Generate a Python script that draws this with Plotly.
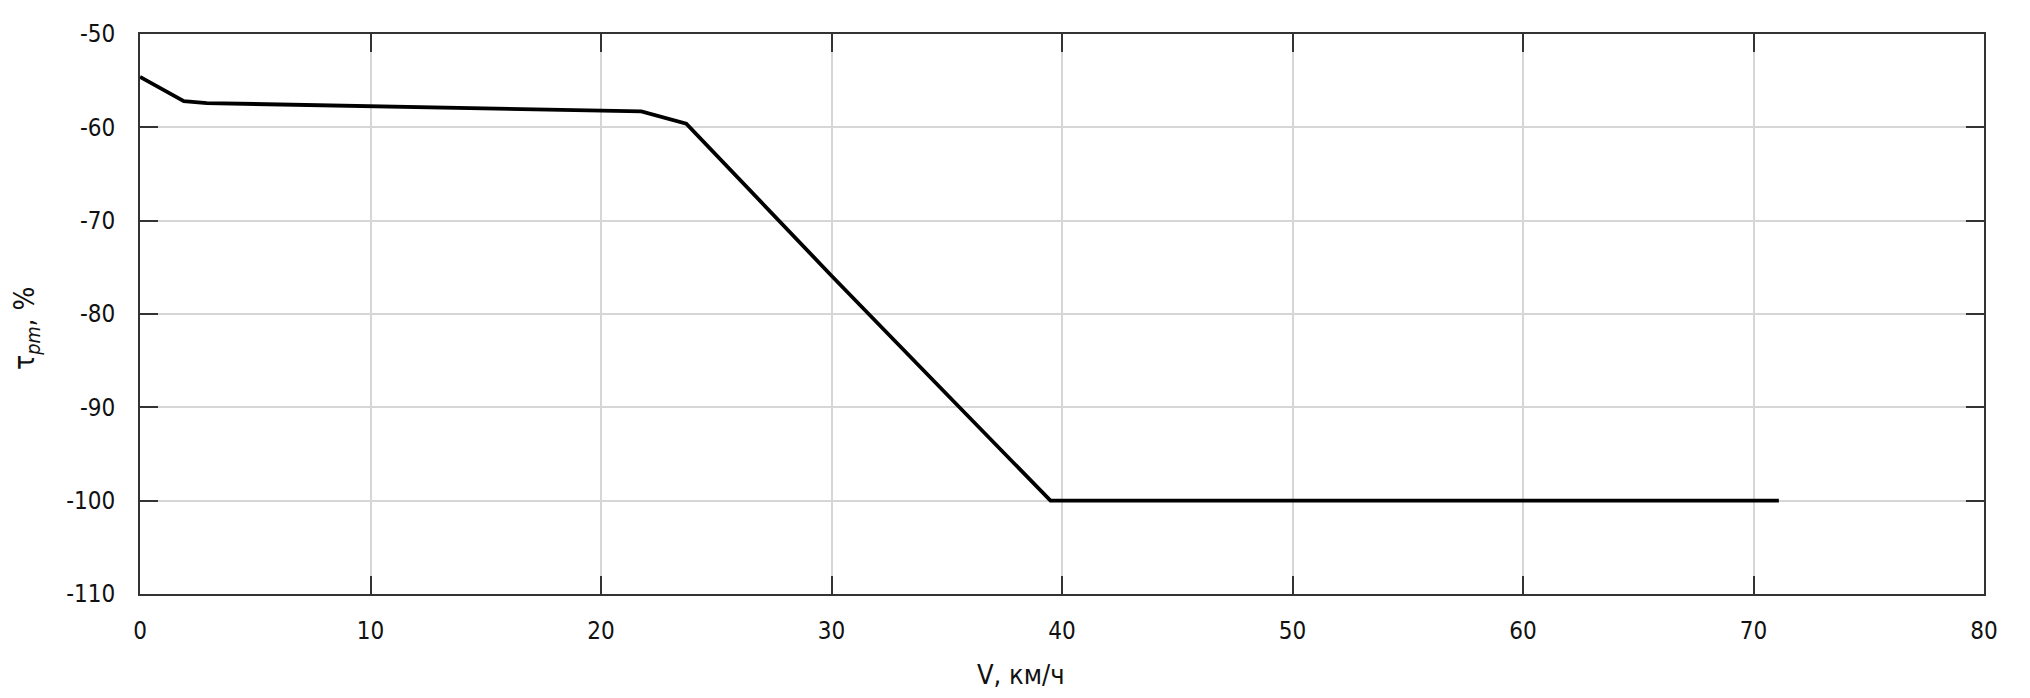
import plotly.graph_objects as go

# Data
speed_kmh = [0, 1.9, 2.9, 10, 20, 21.75, 23.7, 30, 35, 37.8, 39.5, 71.1]
tau_pm = [-54.6, -57.2, -57.4, -57.76, -58.19, -58.3, -59.6, -75.9, -88.6, -95.7, -100, -100]

x_ticks = [0, 10, 20, 30, 40, 50, 60, 70, 80]
y_ticks = [-50, -60, -70, -80, -90, -100, -110]

FONT = "DejaVu Sans Condensed, Liberation Sans Narrow, Arial Narrow, sans-serif"

# page body has an 8px margin; compensate so the plot lands where the reference has it
PAGE_OFF = 8
W, H = 2030 - 2 * PAGE_OFF, 698 - 2 * PAGE_OFF
L, T = 140 - PAGE_OFF, 32 - PAGE_OFF
R = (W + PAGE_OFF) - 1984
B = (H + PAGE_OFF) - 594
PW, PH = W - L - R, H - T - B

fig = go.Figure()
fig.add_trace(go.Scatter(
    x=speed_kmh, y=tau_pm, mode="lines",
    line=dict(color="#000000", width=3.8),
    showlegend=False, hoverinfo="x+y",
))

axis_common = dict(
    showline=True, linecolor="#333333", linewidth=2, mirror="ticks",
    ticks="inside", ticklen=18, tickwidth=2, tickcolor="#333333",
    showgrid=True, gridcolor="#d6d6d6", gridwidth=1.5,
    zeroline=False,
    tickfont=dict(family=FONT, size=24, color="#111111"),
)

fig.update_xaxes(range=[0, 80], tickvals=x_ticks, ticklabelstandoff=14, **axis_common)
fig.update_yaxes(range=[-110, -50], tickvals=y_ticks,
                 ticktext=[str(v) for v in y_ticks], ticklabelstandoff=18, **axis_common)

fig.add_annotation(
    text="V, км/ч", xref="paper", yref="paper",
    x=(1021 - 140) / PW, y=-(675 - 594) / PH,
    showarrow=False, font=dict(family=FONT, size=27, color="#111111"),
    xanchor="center", yanchor="middle",
)
fig.add_annotation(
    text="τ<sub><i>pm</i></sub>, %", xref="paper", yref="paper",
    x=-(140 - 27) / PW, y=(594 - 328) / PH,
    showarrow=False, textangle=-90,
    font=dict(family=FONT, size=28, color="#111111"),
    xanchor="center", yanchor="middle",
)

fig.update_layout(
    width=W, height=H,
    margin=dict(l=L, r=R, t=T, b=B),
    plot_bgcolor="white", paper_bgcolor="white",
)

fig.write_html("out.html")
